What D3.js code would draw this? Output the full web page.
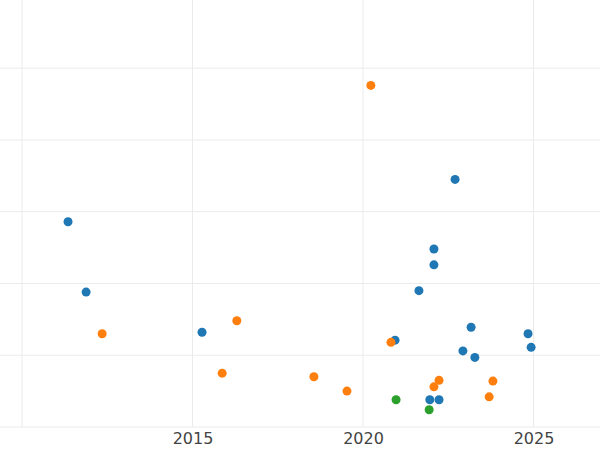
<!DOCTYPE html>
<html><head><meta charset="utf-8">
<script src="https://cdn.jsdelivr.net/npm/d3@7"></script>
<style>body{margin:0;background:#fff}</style>
</head><body><div id="chart"></div>
<script>
// values
const blueX = [2011.35, 2011.88, 2015.28, 2020.94, 2021.64, 2022.08, 2022.08, 2022.70, 2023.17, 2022.93, 2023.28, 2021.96, 2022.23, 2024.84, 2024.93];
const blueY = [2.86, 1.88, 1.32, 1.21, 1.90, 2.48, 2.26, 3.45, 1.39, 1.06, 0.97, 0.38, 0.38, 1.30, 1.11];
const orangeX = [2020.23, 2012.35, 2016.30, 2015.87, 2018.56, 2019.53, 2020.82, 2022.08, 2022.23, 2023.81, 2023.70];
const orangeY = [4.76, 1.30, 1.48, 0.75, 0.70, 0.50, 1.18, 0.56, 0.65, 0.64, 0.42];
const greenX = [2020.97, 2021.94];
const greenY = [0.38, 0.24];
const xTicks = [2010, 2015, 2020, 2025];
const yTicks = [0, 1, 2, 3, 4, 5];

const width = 600, height = 450, plotBottom = 427;
const svg = d3.select("#chart").append("svg").attr("width", width).attr("height", height);

const x = d3.scaleLinear().domain([2009.355, 2026.95]).range([0, width]);
const y = d3.scaleLinear().domain([0, 5.95]).range([plotBottom, 0]);

// grid
svg.selectAll(".vgrid").data(xTicks).enter().append("line")
  .attr("x1", d => x(d)).attr("x2", d => x(d)).attr("y1", 0).attr("y2", plotBottom)
  .attr("stroke", "#ebebeb").attr("stroke-width", 1);
svg.selectAll(".hgrid").data(yTicks).enter().append("line")
  .attr("x1", 0).attr("x2", width).attr("y1", d => y(d)).attr("y2", d => y(d))
  .attr("stroke", "#ebebeb").attr("stroke-width", 1);

// x axis labels
const xAxis = svg.append("g").attr("transform", `translate(0,${plotBottom})`)
  .call(d3.axisBottom(x).tickValues(xTicks.slice(1)).tickFormat(d3.format("d")).tickSize(0).tickPadding(6));
xAxis.select(".domain").remove();
xAxis.selectAll("text").attr("font-family", "DejaVu Sans").attr("font-size", 16).attr("fill", "#444");

const series = [
  { xs: blueX, ys: blueY, color: "#1f77b4" },
  { xs: orangeX, ys: orangeY, color: "#ff7f0e" },
  { xs: greenX, ys: greenY, color: "#2ca02c" },
];
series.forEach(s => {
  svg.append("g").selectAll("circle").data(s.xs.map((v, i) => [v, s.ys[i]])).enter()
    .append("circle")
    .attr("cx", d => x(d[0])).attr("cy", d => y(d[1])).attr("r", 4.5)
    .attr("fill", s.color);
});
</script></body></html>
